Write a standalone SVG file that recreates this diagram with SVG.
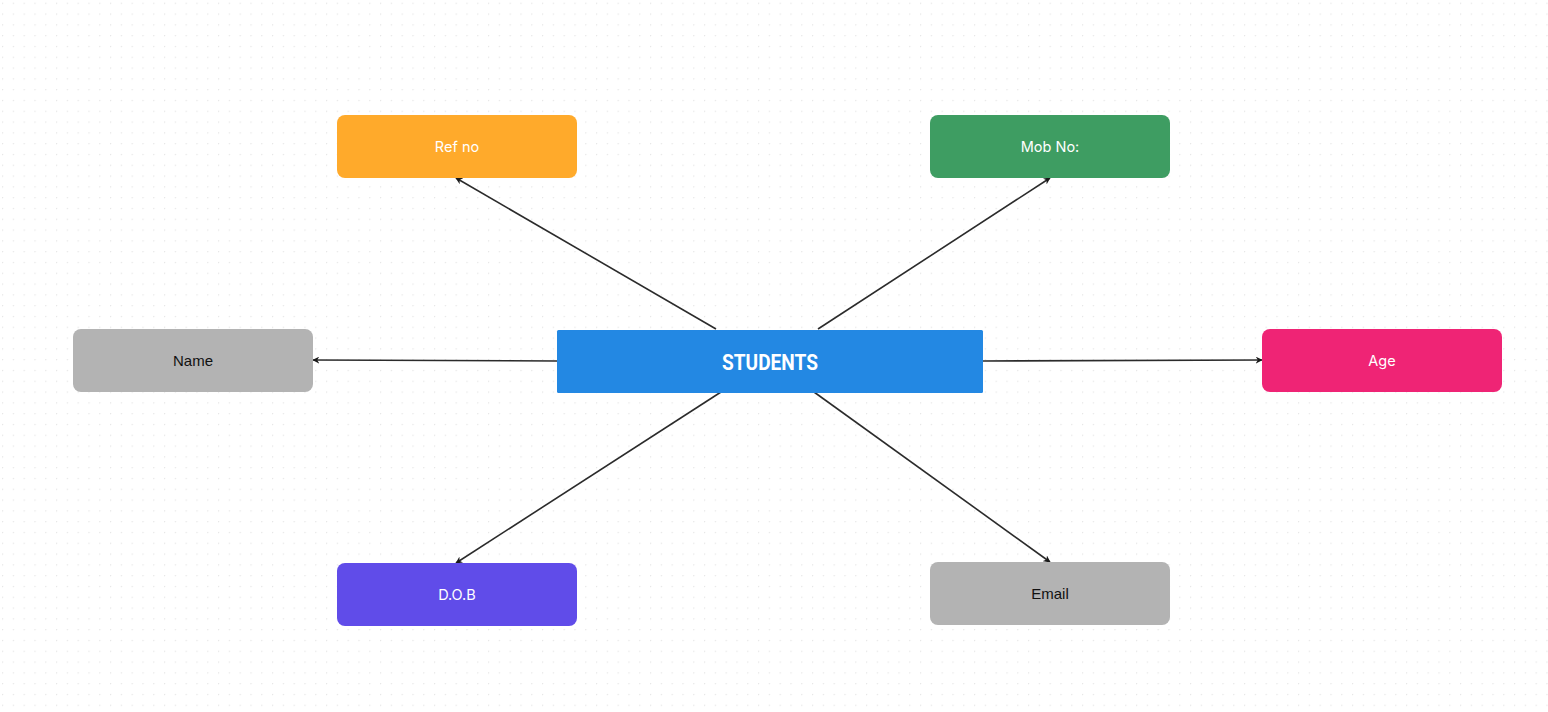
<svg xmlns="http://www.w3.org/2000/svg" width="1548" height="712" viewBox="0 0 1548 712">
<style>
.node rect{stroke:none}
.lbl{font-family:Inter,"Noto Sans",sans-serif;font-size:14.5px;text-anchor:middle;dominant-baseline:central}
.lblA{font-family:"Liberation Sans",Arial,sans-serif;font-size:15px;text-anchor:middle;dominant-baseline:central;fill:#111}
.w{fill:#ffffff}
.conn line{stroke:#2b2b2b;stroke-width:1.6;fill:none}
</style>
<defs>
<pattern id="dots" x="2" y="2.7" width="10.8" height="10.8" patternUnits="userSpaceOnUse">
<rect x="-0.6" y="-1.3" width="1.2" height="2.6" fill="#dedede"/>
<rect x="-1.3" y="-0.6" width="2.6" height="1.2" fill="#dedede"/>
</pattern>
<marker id="arr" viewBox="0 0 10 10" refX="9" refY="5" markerWidth="7" markerHeight="7" markerUnits="userSpaceOnUse" orient="auto">
<path d="M0,0 L10,5 L0,10 L3,5 Z" fill="#1a1a1a"/>
</marker>
</defs>
<rect width="1548" height="712" fill="#ffffff"/>
<rect width="1548" height="712" fill="url(#dots)"/>

<g id="connectors" class="conn">
<line x1="716" y1="329" x2="456" y2="178" marker-end="url(#arr)"/>
<line x1="818" y1="329" x2="1050" y2="178" marker-end="url(#arr)"/>
<line x1="557" y1="361" x2="313" y2="360" marker-end="url(#arr)"/>
<line x1="983" y1="361" x2="1262" y2="360" marker-end="url(#arr)"/>
<line x1="721" y1="392" x2="456" y2="563" marker-end="url(#arr)"/>
<line x1="814" y1="392" x2="1050" y2="562" marker-end="url(#arr)"/>
</g>

<g id="students" class="node">
<rect x="557" y="330" width="426" height="63" rx="1.5" fill="#2388e3"/>
<text x="770" y="362.5" font-family="Roboto,'DejaVu Sans',sans-serif" font-weight="700" font-size="22" fill="#ffffff" text-anchor="middle" dominant-baseline="central" textLength="96" lengthAdjust="spacingAndGlyphs">STUDENTS</text>
</g>
<g id="refno" class="node">
<rect x="337" y="115" width="240" height="63" rx="8" fill="#ffaa2b"/>
<text class="lbl w" x="457" y="146">Ref no</text>
</g>
<g id="mobno" class="node">
<rect x="930" y="115" width="240" height="63" rx="8" fill="#3e9d62"/>
<text class="lbl w" x="1050" y="146">Mob No:</text>
</g>
<g id="name" class="node">
<rect x="73" y="329" width="240" height="63" rx="8" fill="#b3b3b3"/>
<text class="lblA" x="193" y="360">Name</text>
</g>
<g id="age" class="node">
<rect x="1262" y="329" width="240" height="63" rx="8" fill="#ef2475"/>
<text class="lbl w" x="1382" y="360">Age</text>
</g>
<g id="dob" class="node">
<rect x="337" y="563" width="240" height="63" rx="8" fill="#604ce9"/>
<text class="lbl w" x="457" y="594">D.O.B</text>
</g>
<g id="email" class="node">
<rect x="930" y="562" width="240" height="63" rx="8" fill="#b3b3b3"/>
<text class="lblA" x="1050" y="593">Email</text>
</g>
</svg>
